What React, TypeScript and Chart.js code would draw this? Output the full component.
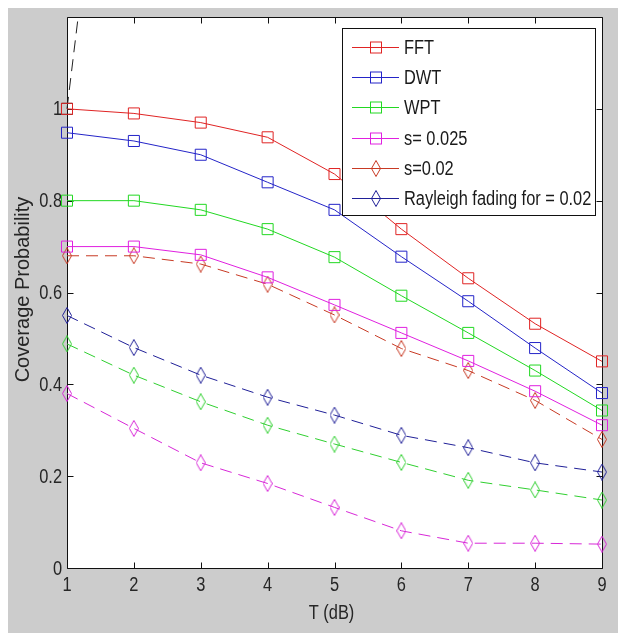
import React, { useEffect, useRef } from "react";
import { Chart, registerables } from "chart.js";

Chart.register(...registerables);

// ---- data ----
const xValues = [1, 2, 3, 4, 5, 6, 7, 8, 9];
const fft = [1.0, 0.99, 0.97, 0.938, 0.858, 0.738, 0.631, 0.532, 0.45];
const dwt = [0.948, 0.93, 0.9, 0.84, 0.78, 0.678, 0.581, 0.479, 0.381];
const wpt = [0.8, 0.8, 0.78, 0.738, 0.677, 0.593, 0.512, 0.43, 0.343];
const s025 = [0.7, 0.7, 0.682, 0.633, 0.573, 0.512, 0.451, 0.385, 0.311];
const s02 = [0.68, 0.68, 0.662, 0.618, 0.551, 0.478, 0.43, 0.365, 0.28];
const rayleigh = [0.55, 0.48, 0.42, 0.372, 0.333, 0.289, 0.262, 0.229, 0.209];
const greenDashed = [0.488, 0.42, 0.362, 0.311, 0.27, 0.23, 0.191, 0.17, 0.148];
const magentaDashed = [0.38, 0.304, 0.229, 0.184, 0.132, 0.081, 0.054, 0.054, 0.052];
const blackX = [1, 2];
const blackY = [1.0, 2.2];

const legendLabels = ["FFT", "DWT", "WPT", "s= 0.025", "s=0.02", "Rayleigh fading for = 0.02"];
const xTicks = [1, 2, 3, 4, 5, 6, 7, 8, 9];
const yTicks = [0, 0.2, 0.4, 0.6, 0.8, 1];
const xTitle = "T (dB)";
const yTitle = "Coverage Probability";

const REGULAR = "'Liberation Sans', Arial, sans-serif";
const NARROW_SCALE = 0.82;

const W = 610;
const H = 625;

function makeDiamond(color: string): HTMLCanvasElement {
  const c = document.createElement("canvas");
  c.width = 10;
  c.height = 17;
  const g = c.getContext("2d")!;
  g.strokeStyle = color;
  g.lineWidth = 1;
  g.beginPath();
  g.moveTo(5, 0.5);
  g.lineTo(9.5, 8.5);
  g.lineTo(5, 16.5);
  g.lineTo(0.5, 8.5);
  g.closePath();
  g.stroke();
  return c;
}

function pts(xs: number[], ys: number[]) {
  return ys.map((y, i) => ({ x: xs[i], y }));
}

function narrowText(ctx: CanvasRenderingContext2D, text: string, x: number, y: number, align: CanvasTextAlign) {
  ctx.save();
  ctx.translate(x, y);
  ctx.scale(NARROW_SCALE, 1);
  ctx.textAlign = align;
  ctx.fillText(text, 0, 0);
  ctx.restore();
}

const framePlugin = {
  id: "framePlugin",
  beforeDraw(chart: any) {
    const { ctx, chartArea: a } = chart;
    ctx.save();
    ctx.fillStyle = "#cccccc";
    ctx.fillRect(0, 0, chart.width, chart.height);
    ctx.fillStyle = "#ffffff";
    ctx.fillRect(a.left, a.top, a.right - a.left, a.bottom - a.top);
    ctx.restore();
  },
  beforeDatasetsDraw(chart: any) {
    const { ctx, chartArea: a, scales } = chart;
    ctx.save();
    ctx.strokeStyle = "#111";
    ctx.lineWidth = 1;
    ctx.beginPath();
    const L = Math.round(a.left) + 0.5;
    const R = Math.round(a.right) + 0.5;
    const T = Math.round(a.top) + 0.5;
    const B = Math.round(a.bottom) + 0.5;
    ctx.rect(L, T, R - L, B - T);
    const tl = 6;
    xTicks.forEach((v) => {
      const x = Math.round(scales.x.getPixelForValue(v)) + 0.5;
      ctx.moveTo(x, B);
      ctx.lineTo(x, B - tl);
      ctx.moveTo(x, T);
      ctx.lineTo(x, T + tl);
    });
    yTicks.forEach((v) => {
      const y = Math.round(scales.y.getPixelForValue(v)) + 0.5;
      ctx.moveTo(L, y);
      ctx.lineTo(L + tl, y);
      ctx.moveTo(R, y);
      ctx.lineTo(R - tl, y);
    });
    ctx.stroke();

    // tick labels
    ctx.fillStyle = "#262626";
    ctx.font = `20px ${REGULAR}`;
    ctx.textBaseline = "middle";
    xTicks.forEach((v) => {
      narrowText(ctx, String(v), scales.x.getPixelForValue(v), a.bottom + 17, "center");
    });
    yTicks.forEach((v) => {
      narrowText(ctx, String(v), a.left - 5, scales.y.getPixelForValue(v) + 1, "right");
    });

    // axis titles
    narrowText(ctx, xTitle, (a.left + a.right) / 2 - 3, 605, "center");
    ctx.translate(15, (a.top + a.bottom) / 2 - 3);
    ctx.rotate(-Math.PI / 2);
    ctx.font = `20px ${REGULAR}`;
    ctx.textAlign = "center";
    ctx.fillText(yTitle, 0, 0);
    ctx.restore();
  },
  afterDatasetsDraw(chart: any) {
    const { ctx } = chart;
    const bx = 334, by = 20, bw = 253, bh = 187;
    ctx.save();
    ctx.fillStyle = "#ffffff";
    ctx.fillRect(bx, by, bw, bh);
    ctx.strokeStyle = "#111";
    ctx.lineWidth = 1;
    ctx.strokeRect(bx + 0.5, by + 0.5, bw, bh);
    ctx.font = `20px ${REGULAR}`;
    ctx.textBaseline = "middle";
    legendLabels.forEach((label, i) => {
      const ds = chart.data.datasets[i];
      const y = Math.round(39 + i * 30.2) + 0.5;
      ctx.strokeStyle = ds.borderColor;
      ctx.lineWidth = 1;
      ctx.setLineDash([]);
      ctx.beginPath();
      ctx.moveTo(344, y);
      ctx.lineTo(391, y);
      ctx.stroke();
      const ps = ds.pointStyle;
      if (ps === "rect") {
        ctx.strokeRect(368 - 5.5, y - 5.5, 11, 11);
      } else if (ps && typeof ps !== "string") {
        ctx.drawImage(ps, 368 - ps.width / 2, y - ps.height / 2);
      }
      ctx.fillStyle = "#1a1a1a";
      narrowText(ctx, label, 396, y + 1, "left");
    });
    ctx.restore();
  },
};

export default function App() {
  const ref = useRef<HTMLCanvasElement | null>(null);

  useEffect(() => {
    if (!ref.current) return;
    const RED = "#e02424";
    const BLUE = "#2424c8";
    const GREEN = "#22d822";
    const MAGENTA = "#e020e0";
    const DRED = "#c83a24";
    const NAVY = "#202098";
    const GREEN2 = "#30d030";
    const MAG2 = "#d828d8";

    const solid = (label: string, ys: number[], color: string) => ({
      label,
      data: pts(xValues, ys),
      borderColor: color,
      backgroundColor: "transparent",
      borderWidth: 1,
      pointStyle: "rect",
      pointRadius: 7.8,
      pointBorderWidth: 1,
      pointBorderColor: color,
      pointBackgroundColor: "transparent",
      tension: 0,
      clip: 12,
    });
    const dashed = (label: string, ys: number[], color: string) => ({
      label,
      data: pts(xValues, ys),
      borderColor: color,
      backgroundColor: "transparent",
      borderWidth: 1,
      borderDash: [12, 7],
      pointStyle: makeDiamond(color),
      pointRadius: 8,
      tension: 0,
      clip: 12,
    });

    const chart = new Chart(ref.current, {
      type: "line",
      data: {
        datasets: [
          solid(legendLabels[0], fft, RED),
          solid(legendLabels[1], dwt, BLUE),
          solid(legendLabels[2], wpt, GREEN),
          solid(legendLabels[3], s025, MAGENTA),
          dashed(legendLabels[4], s02, DRED),
          dashed(legendLabels[5], rayleigh, NAVY),
          dashed("green dashed", greenDashed, GREEN2),
          dashed("magenta dashed", magentaDashed, MAG2),
          {
            label: "black",
            data: pts(blackX, blackY),
            borderColor: "#222",
            borderWidth: 1,
            borderDash: [12, 7],
            pointStyle: "rect",
            pointRadius: 7.8,
            pointBorderColor: "#222",
            pointBackgroundColor: "transparent",
            backgroundColor: "transparent",
            clip: { left: 12, top: 0, right: 0, bottom: 0 },
          } as any,
        ] as any,
      },
      options: {
        responsive: false,
        animation: false,
        events: [],
        layout: { padding: { top: 8, right: 16, left: 0, bottom: 0 } },
        plugins: { legend: { display: false }, tooltip: { enabled: false } },
        scales: {
          x: {
            type: "linear",
            min: 1,
            max: 9,
            afterBuildTicks: (s: any) => {
              s.ticks = xTicks.map((v) => ({ value: v }));
            },
            afterFit: (s: any) => {
              s.height = 65;
            },
            grid: { display: false, drawTicks: false },
            border: { display: false },
            ticks: { display: false },
          },
          y: {
            type: "linear",
            min: 0,
            max: 1.2,
            afterBuildTicks: (s: any) => {
              s.ticks = yTicks.map((v) => ({ value: v }));
            },
            afterFit: (s: any) => {
              s.width = 59;
            },
            grid: { display: false, drawTicks: false },
            border: { display: false },
            ticks: { display: false },
          },
        },
      } as any,
      plugins: [framePlugin],
    });
    return () => chart.destroy();
  }, []);

  return (
    <div style={{ position: "fixed", left: 8, top: 8, width: W, height: H }}>
      <canvas ref={ref} width={W} height={H} style={{ display: "block", width: W, height: H }} />
    </div>
  );
}
